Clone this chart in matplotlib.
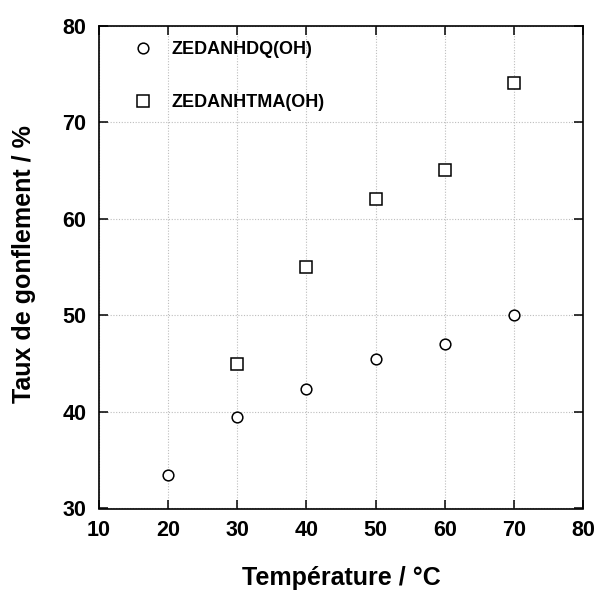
import matplotlib
matplotlib.use('Agg')
import matplotlib.pyplot as plt

# data
temp_hdq = [20, 30, 40, 50, 60, 70]
taux_hdq = [33.5, 39.5, 42.4, 45.5, 47.0, 50.0]
temp_htma = [30, 40, 50, 60, 70]
taux_htma = [45.0, 55.0, 62.0, 65.0, 74.0]
labels = ['ZEDANHDQ(OH)', 'ZEDANHTMA(OH)']
xticks = [10, 20, 30, 40, 50, 60, 70, 80]
yticks = [30, 40, 50, 60, 70, 80]

plt.rcParams['font.family'] = ['Liberation Sans', 'DejaVu Sans']
plt.rcParams['font.weight'] = 'bold'

W, H = 597, 590
fig = plt.figure(figsize=(W/100, H/100), dpi=100)
ax = fig.add_axes([99/W, 1-508.5/H, 484/W, 483/H])

ax.plot(temp_hdq, taux_hdq, 'o', mfc='white', mec='black', mew=1.1, ms=7.7, label=labels[0])
ax.plot(temp_htma, taux_htma, 's', mfc='white', mec='black', mew=1.1, ms=8.6, label=labels[1])

ax.set_xlim(10, 80)
ax.set_ylim(30, 80)
ax.set_xticks(xticks)
ax.set_yticks(yticks)
ax.grid(True, color='#bdbdbd', linestyle=(0, (1, 1.5)), linewidth=0.8)

for s in ax.spines.values():
    s.set_linewidth(1.2)
ax.tick_params(direction='in', length=6.5, width=1.1, top=True, right=True,
               labelsize=15.5)
ax.tick_params(axis='y', pad=9)
ax.tick_params(axis='x', pad=8)

fig.text(341/W, 1-585/H, 'Température / °C', ha='center', va='baseline', fontsize=18, fontweight='bold')
fig.text(24/W, 1-264/H, 'Taux de gonflement / %', ha='center', va='center', rotation=90,
         fontsize=18, fontweight='bold')

leg = ax.legend(loc='upper left', bbox_to_anchor=(0.072, 0.967), frameon=False, fontsize=13,
                labelspacing=1.96, handlelength=1.0, handletextpad=1.1,
                borderpad=0, borderaxespad=0)

plt.savefig('out.png', dpi=100)
